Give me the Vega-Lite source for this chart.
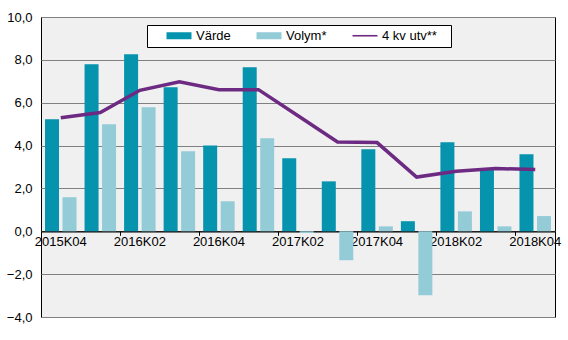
{
  "$schema": "https://vega.github.io/schema/vega-lite/v6.json",
  "autosize": "none",
  "width": 514,
  "height": 300,
  "padding": {"left": 41, "top": 17, "right": 13, "bottom": 23},
  "background": "white",
  "config": {
    "font": "Liberation Sans",
    "view": {"fill": "#f0f0f0", "stroke": "black", "strokeWidth": 1},
    "axis": {"labelFont": "Liberation Sans", "labelFontSize": 13, "labelColor": "black"}
  },
  "datasets": {
    "bars": [
      {"q": "2015K04", "serie": "Värde", "v": 5.23},
      {"q": "2015K04", "serie": "Volym*", "v": 1.59},
      {"q": "2016K01", "serie": "Värde", "v": 7.79},
      {"q": "2016K01", "serie": "Volym*", "v": 4.99},
      {"q": "2016K02", "serie": "Värde", "v": 8.26},
      {"q": "2016K02", "serie": "Volym*", "v": 5.79},
      {"q": "2016K03", "serie": "Värde", "v": 6.72},
      {"q": "2016K03", "serie": "Volym*", "v": 3.73},
      {"q": "2016K04", "serie": "Värde", "v": 4.0},
      {"q": "2016K04", "serie": "Volym*", "v": 1.4},
      {"q": "2017K01", "serie": "Värde", "v": 7.65},
      {"q": "2017K01", "serie": "Volym*", "v": 4.34},
      {"q": "2017K02", "serie": "Värde", "v": 3.41},
      {"q": "2017K02", "serie": "Volym*", "v": -0.08},
      {"q": "2017K03", "serie": "Värde", "v": 2.33},
      {"q": "2017K03", "serie": "Volym*", "v": -1.35},
      {"q": "2017K04", "serie": "Värde", "v": 3.83},
      {"q": "2017K04", "serie": "Volym*", "v": 0.23},
      {"q": "2018K01", "serie": "Värde", "v": 0.47},
      {"q": "2018K01", "serie": "Volym*", "v": -2.99},
      {"q": "2018K02", "serie": "Värde", "v": 4.15},
      {"q": "2018K02", "serie": "Volym*", "v": 0.93},
      {"q": "2018K03", "serie": "Värde", "v": 2.89},
      {"q": "2018K03", "serie": "Volym*", "v": 0.23},
      {"q": "2018K04", "serie": "Värde", "v": 3.59},
      {"q": "2018K04", "serie": "Volym*", "v": 0.71}
    ],
    "line": [
      {"q": "2015K04", "serie": "4 kv utv**", "v": 5.3},
      {"q": "2016K01", "serie": "4 kv utv**", "v": 5.54},
      {"q": "2016K02", "serie": "4 kv utv**", "v": 6.58},
      {"q": "2016K03", "serie": "4 kv utv**", "v": 6.98},
      {"q": "2016K04", "serie": "4 kv utv**", "v": 6.61},
      {"q": "2017K01", "serie": "4 kv utv**", "v": 6.61},
      {"q": "2017K02", "serie": "4 kv utv**", "v": 5.39},
      {"q": "2017K03", "serie": "4 kv utv**", "v": 4.17},
      {"q": "2017K04", "serie": "4 kv utv**", "v": 4.14},
      {"q": "2018K01", "serie": "4 kv utv**", "v": 2.53},
      {"q": "2018K02", "serie": "4 kv utv**", "v": 2.8},
      {"q": "2018K03", "serie": "4 kv utv**", "v": 2.93},
      {"q": "2018K04", "serie": "4 kv utv**", "v": 2.88}
    ]
  },
  "resolve": {"scale": {"color": "shared", "x": "shared"}, "axis": {"x": "independent"}},
  "layer": [
    {
      "data": {"name": "bars"},
      "mark": {"type": "bar"},
      "encoding": {
        "x": {
          "field": "q", "type": "nominal", "sort": null,
          "scale": {"paddingInner": 0, "paddingOuter": 0},
          "axis": {
            "title": null, "orient": "bottom", "offset": -85.7,
            "values": ["2016K02", "2016K04", "2017K02", "2017K04", "2018K02", "2018K04"],
            "bandPosition": 0, "labels": false, "ticks": true, "tickSize": 4,
            "tickColor": "black", "domainColor": "black", "domainWidth": 1.2, "grid": false
          }
        },
        "xOffset": {
          "field": "serie", "type": "nominal", "sort": ["Värde", "Volym*"],
          "scale": {"paddingInner": 0.2, "paddingOuter": 0.23}
        },
        "y": {
          "field": "v", "type": "quantitative",
          "scale": {"domain": [-4, 10], "nice": false, "zero": false},
          "axis": {
            "title": null, "values": [-4, -2, 0, 2, 4, 6, 8, 10],
            "labelExpr": "replace(format(datum.value, '.1f'), '.', ',')",
            "ticks": false, "domain": false, "labelPadding": 9,
            "grid": true, "gridColor": "#808080", "gridWidth": 1
          }
        },
        "color": {
          "field": "serie", "type": "nominal",
          "scale": {"domain": ["Värde", "Volym*", "4 kv utv**"], "range": ["#0593ae", "#93cbd7", "#6d2a83"]},
          "legend": {
            "title": " ", "titleOrient": "right", "titlePadding": 10, "titleFontSize": 13,
            "orient": "none", "legendX": 106, "legendY": 8,
            "direction": "horizontal", "fillColor": "white", "strokeColor": "black",
            "padding": 4, "columnPadding": 10, "labelFontSize": 13, "labelFont": "Liberation Sans",
            "labelColor": "black", "labelOffset": 10.5, "symbolOffset": 21.5,
            "symbolType": "M-2.5,-0.7H2.5V0.7H-2.5Z", "symbolSize": 100, "symbolStrokeWidth": 0,
            "encode": {
              "symbols": {"update": {"shape": {"signal": "datum.value === '4 kv utv**' ? 'M-2.5,-0.16H2.5V0.16H-2.5Z' : 'M-2.5,-0.7H2.5V0.7H-2.5Z'"}}}
            }
          }
        }
      }
    },
    {
      "data": {"name": "bars"},
      "mark": {"type": "text", "opacity": 0},
      "encoding": {
        "x": {
          "field": "q", "type": "nominal", "sort": null,
          "axis": {
            "title": null, "orient": "bottom", "offset": -85.7,
            "values": ["2015K04", "2016K02", "2016K04", "2017K02", "2017K04", "2018K02", "2018K04"],
            "ticks": false, "domain": false, "labelPadding": 4, "labelAngle": 0, "grid": false
          }
        },
        "text": {"value": ""}
      }
    },
    {
      "data": {"name": "line"},
      "mark": {"type": "line", "strokeWidth": 3.5},
      "encoding": {
        "x": {"field": "q", "type": "nominal", "sort": null, "axis": null},
        "y": {"field": "v", "type": "quantitative"},
        "color": {"field": "serie", "type": "nominal"}
      }
    }
  ]
}
